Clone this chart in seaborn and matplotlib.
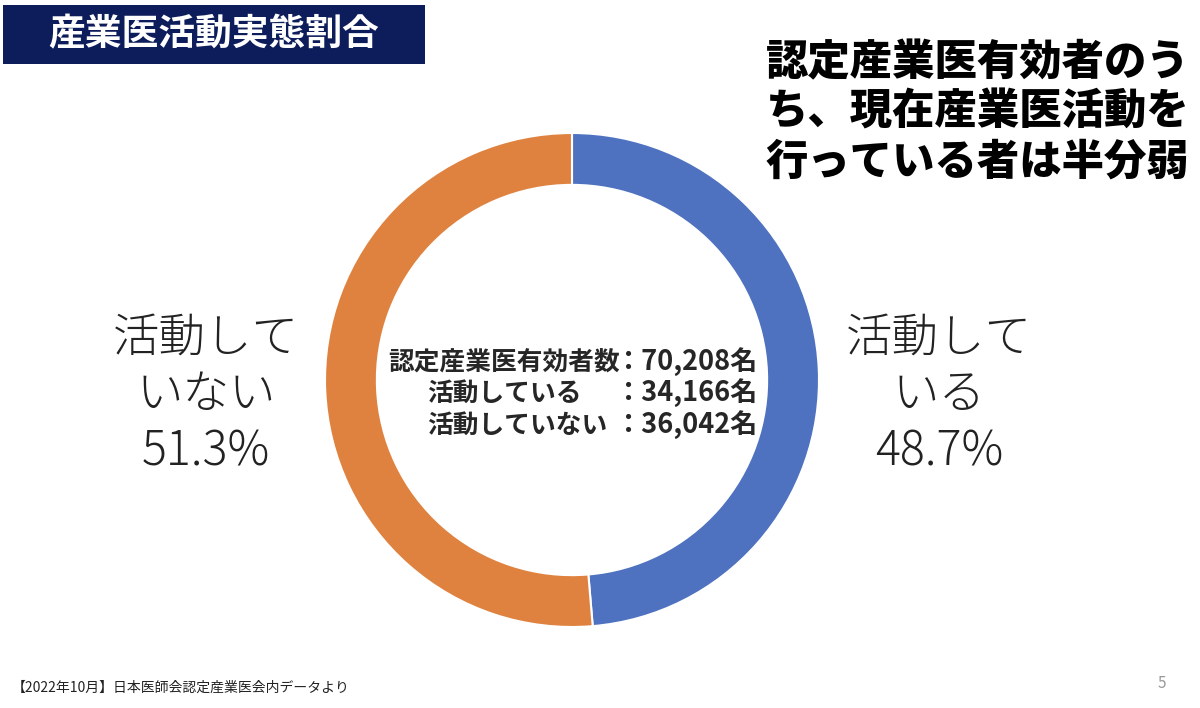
import matplotlib
matplotlib.use("Agg")
import matplotlib.pyplot as plt
import seaborn as sns
from matplotlib.patches import Rectangle

# data
labels = ["活動している", "活動していない"]
counts = [34166, 36042]
total_label = "認定産業医有効者数"
colors = ["#4E72BF", "#E0823F"]

sns.set_theme(style="white")
plt.rcParams["font.family"] = ["Noto Sans CJK JP", "DejaVu Sans"]

total = sum(counts)
pcts = [c / total * 100 for c in counts]

fig = plt.figure(figsize=(12, 7.08), dpi=100)
fig.patch.set_facecolor("white")

# donut
ax = fig.add_axes([325 / 1200, 81 / 708, 494 / 1200, 494 / 708])
ax.pie(counts, colors=colors, startangle=90, counterclock=False, radius=1,
       wedgeprops=dict(width=0.21, edgecolor="white", linewidth=1.5))
ax.set_xlim(-1, 1)
ax.set_ylim(-1, 1)
ax.set_aspect("equal")
ax.axis("off")

def fx(px):
    return px / 1200

def fy(py):
    return 1 - py / 708

# title box
fig.patches.append(Rectangle((fx(3), fy(64)), fx(422), 59 / 708, transform=fig.transFigure,
                             facecolor="#0D1D5B", edgecolor="none"))
fig.text(fx(214), fy(35), "産業医活動実態割合", color="white", fontsize=26.5,
         ha="center", va="center", fontweight="bold")

# headline
fig.text(fx(766), fy(112), "認定産業医有効者のう\nち、現在産業医活動を\n行っている者は半分弱",
         fontsize=30.5, fontweight="heavy", ha="left", va="center", linespacing=1.18,
         color="black")

# side labels
fig.text(fx(206), fy(395), "活動して\nいない\n{:.1f}%".format(pcts[1]), fontsize=33.5,
         ha="center", va="center", fontweight="light", linespacing=1.2, color="#222222")
fig.text(fx(939), fy(395), "活動して\nいる\n{:.1f}%".format(pcts[0]), fontsize=33.5,
         ha="center", va="center", fontweight="light", linespacing=1.2, color="#222222")

# center text
rows = [(total_label, total, 388, 362),
        (labels[0], counts[0], 427, 393),
        (labels[1], counts[1], 427, 425)]
for name, val, x0, y0 in rows:
    fig.text(fx(x0), fy(y0), name, fontsize=18.5, fontweight="bold", ha="left", va="center")
    fig.text(fx(614), fy(y0), "：{:,}名".format(val), fontsize=19.5, fontweight="bold",
             ha="left", va="center")

# footer
fig.text(fx(12), fy(688), "【2022年10月】日本医師会認定産業医会内データより", fontsize=10,
         ha="left", va="center", color="#222222")
fig.text(fx(1162), fy(683), "5", fontsize=11, ha="center", va="center", color="#999999")

fig.savefig("out.png", dpi=100, facecolor="white")
